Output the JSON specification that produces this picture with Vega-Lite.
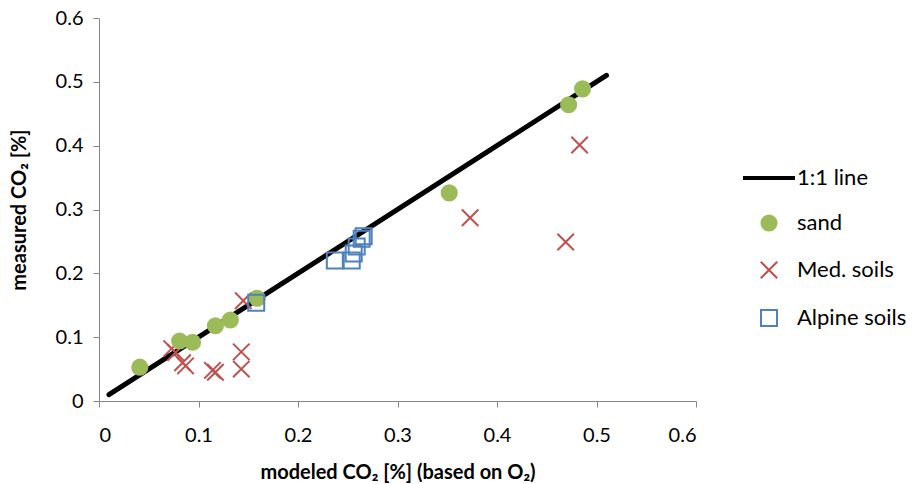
{
  "$schema": "https://vega.github.io/schema/vega-lite/v6.json",
  "autosize": {"type": "none"},
  "width": 597,
  "height": 383,
  "padding": {"left": 99, "top": 18, "right": 219, "bottom": 83},
  "background": "white",
  "config": {
    "view": {"stroke": null},
    "font": "Lato",
    "axis": {
      "grid": false,
      "domainColor": "#868686",
      "tickColor": "#868686",
      "tickSize": 6,
      "labelFontSize": 20,
      "labelColor": "#000000",
      "labelFont": "Lato",
      "titleFont": "Lato",
      "titleFontSize": 20,
      "titleFontWeight": "bold",
      "titleColor": "#000000"
    },
    "legend": {
      "orient": "none",
      "legendX": 659,
      "legendY": 149,
      "labelFontSize": 22,
      "labelFont": "Lato",
      "labelColor": "#000000",
      "labelOffset": 17,
      "rowPadding": 23,
      "symbolSize": 300
    }
  },
  "datasets": {
    "points": [
      {"x": 0.073, "y": 0.082, "series": "Med. soils"},
      {"x": 0.077, "y": 0.076, "series": "Med. soils"},
      {"x": 0.084, "y": 0.060, "series": "Med. soils"},
      {"x": 0.087, "y": 0.055, "series": "Med. soils"},
      {"x": 0.114, "y": 0.048, "series": "Med. soils"},
      {"x": 0.117, "y": 0.045, "series": "Med. soils"},
      {"x": 0.143, "y": 0.077, "series": "Med. soils"},
      {"x": 0.143, "y": 0.050, "series": "Med. soils"},
      {"x": 0.145, "y": 0.157, "series": "Med. soils"},
      {"x": 0.373, "y": 0.287, "series": "Med. soils"},
      {"x": 0.469, "y": 0.249, "series": "Med. soils"},
      {"x": 0.483, "y": 0.401, "series": "Med. soils"},
      {"x": 0.041, "y": 0.053, "series": "sand"},
      {"x": 0.081, "y": 0.094, "series": "sand"},
      {"x": 0.094, "y": 0.092, "series": "sand"},
      {"x": 0.117, "y": 0.118, "series": "sand"},
      {"x": 0.132, "y": 0.127, "series": "sand"},
      {"x": 0.159, "y": 0.161, "series": "sand"},
      {"x": 0.352, "y": 0.326, "series": "sand"},
      {"x": 0.472, "y": 0.464, "series": "sand"},
      {"x": 0.486, "y": 0.489, "series": "sand"},
      {"x": 0.158, "y": 0.154, "series": "Alpine soils"},
      {"x": 0.237, "y": 0.220, "series": "Alpine soils"},
      {"x": 0.254, "y": 0.220, "series": "Alpine soils"},
      {"x": 0.256, "y": 0.231, "series": "Alpine soils"},
      {"x": 0.259, "y": 0.242, "series": "Alpine soils"},
      {"x": 0.264, "y": 0.254, "series": "Alpine soils"},
      {"x": 0.266, "y": 0.258, "series": "Alpine soils"}
    ],
    "line": [
      {"x": 0.01, "y": 0.01, "series": "1:1 line"},
      {"x": 0.51, "y": 0.51, "series": "1:1 line"}
    ]
  },
  "layer": [
    {
      "data": {"name": "line"},
      "mark": {"type": "line", "strokeWidth": 5, "strokeCap": "round"},
      "encoding": {
        "x": {"field": "x", "type": "quantitative"},
        "y": {"field": "y", "type": "quantitative"},
        "stroke": {
          "field": "series", "type": "nominal", "title": null,
          "legend": {
            "encode": {
              "symbols": {
                "update": {
                  "size": {"signal": "datum.value === '1:1 line' ? 2704 : (datum.value === 'sand' ? 292 : (datum.value === 'Med. soils' ? 272 : 256))"},
                  "strokeWidth": {"signal": "datum.value === '1:1 line' ? 4 : (datum.value === 'sand' ? 0 : 2)"}
                }
              }
            }
          }
        }
      }
    },
    {
      "data": {"name": "points"},
      "encoding": {
        "x": {
          "field": "x", "type": "quantitative",
          "scale": {"domain": [0, 0.6], "nice": false, "zero": false},
          "axis": {"values": [0, 0.1, 0.2, 0.3, 0.4, 0.5, 0.6], "format": ".1~f", "labelPadding": 18, "title": "modeled CO₂ [%] (based on O₂)", "titlePadding": 17}
        },
        "y": {
          "field": "y", "type": "quantitative",
          "scale": {"domain": [0, 0.6], "nice": false, "zero": false},
          "axis": {"values": [0, 0.1, 0.2, 0.3, 0.4, 0.5, 0.6], "format": ".1~f", "labelPadding": 10, "title": "measured CO₂ [%]", "titlePadding": 26}
        },
        "stroke": {
          "field": "series", "type": "nominal", "title": null,
          "scale": {"domain": ["1:1 line", "sand", "Med. soils", "Alpine soils"], "range": ["#000000", "#9BBB59", "#C0504D", "#4F81BD"]},
          "legend": {
            "encode": {
              "symbols": {
                "update": {
                  "size": {"signal": "datum.value === '1:1 line' ? 2704 : (datum.value === 'sand' ? 292 : (datum.value === 'Med. soils' ? 272 : 256))"},
                  "strokeWidth": {"signal": "datum.value === '1:1 line' ? 4 : (datum.value === 'sand' ? 0 : 2)"}
                }
              }
            }
          }
        },
        "fill": {
          "field": "series", "type": "nominal", "title": null,
          "scale": {"domain": ["1:1 line", "sand", "Med. soils", "Alpine soils"], "range": ["transparent", "#9BBB59", "transparent", "transparent"]},
          "legend": {
            "encode": {
              "symbols": {
                "update": {
                  "size": {"signal": "datum.value === '1:1 line' ? 2704 : (datum.value === 'sand' ? 292 : (datum.value === 'Med. soils' ? 272 : 256))"},
                  "strokeWidth": {"signal": "datum.value === '1:1 line' ? 4 : (datum.value === 'sand' ? 0 : 2)"}
                }
              }
            }
          }
        },
        "shape": {
          "field": "series", "type": "nominal", "title": null,
          "scale": {"domain": ["1:1 line", "sand", "Med. soils", "Alpine soils"], "range": ["stroke", "circle", "M-1,-1L1,1M-1,1L1,-1", "square"]},
          "legend": {
            "encode": {
              "symbols": {
                "update": {
                  "size": {"signal": "datum.value === '1:1 line' ? 2704 : (datum.value === 'sand' ? 292 : (datum.value === 'Med. soils' ? 272 : 256))"},
                  "strokeWidth": {"signal": "datum.value === '1:1 line' ? 4 : (datum.value === 'sand' ? 0 : 2)"}
                }
              }
            }
          }
        }
      },
      "layer": [
        {
          "transform": [{"filter": "datum.series === 'Med. soils'"}],
          "mark": {"type": "point", "opacity": 1, "size": 272, "strokeWidth": 2}
        },
        {
          "transform": [{"filter": "datum.series === 'sand'"}],
          "mark": {"type": "point", "opacity": 1, "size": 292, "strokeWidth": 0}
        },
        {
          "transform": [{"filter": "datum.series === 'Alpine soils'"}],
          "mark": {"type": "point", "opacity": 1, "size": 256, "strokeWidth": 2}
        }
      ]
    }
  ]
}
